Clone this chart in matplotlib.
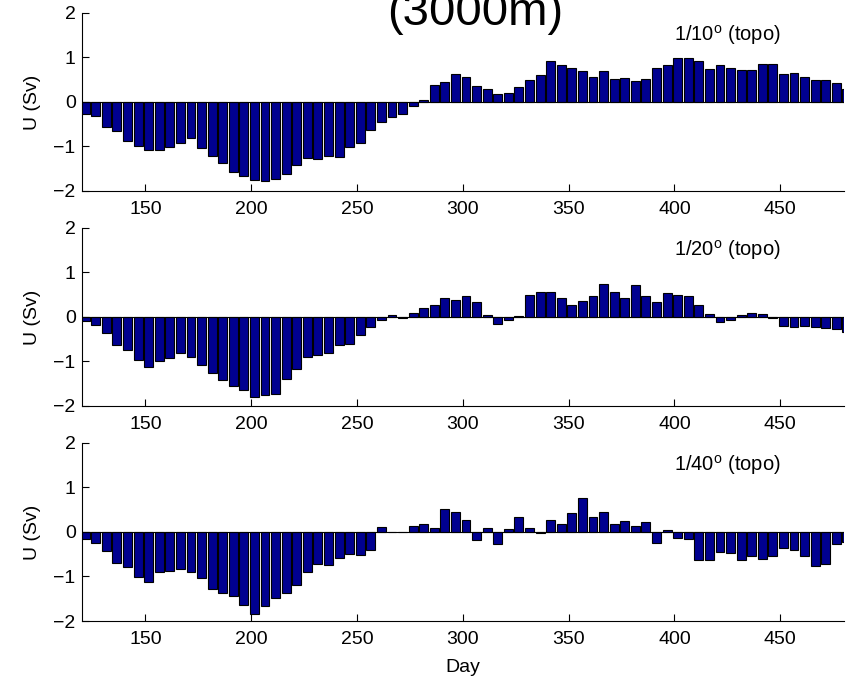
import numpy as np
import matplotlib
matplotlib.use("Agg")
import matplotlib.pyplot as plt

plt.rcParams['font.family'] = ['Liberation Sans', 'DejaVu Sans']
plt.rcParams['mathtext.fontset'] = 'custom'
plt.rcParams['mathtext.rm'] = 'Liberation Sans'

# bar centres, every 5 days
days = np.arange(121.5, 482, 5)

u_10 = [-0.28, -0.31, -0.56, -0.66, -0.87, -1.00, -1.07, -1.07, -1.02, -0.93,
        -0.81, -1.03, -1.22, -1.38, -1.57, -1.67, -1.76, -1.77, -1.74, -1.61,
        -1.42, -1.25, -1.29, -1.22, -1.24, -1.01, -0.93, -0.64, -0.44, -0.34,
        -0.28, -0.10, 0.04, 0.37, 0.45, 0.63, 0.56, 0.35, 0.28, 0.18,
        0.21, 0.33, 0.49, 0.61, 0.92, 0.83, 0.77, 0.70, 0.57, 0.70,
        0.51, 0.54, 0.47, 0.51, 0.76, 0.83, 0.98, 0.98, 0.91, 0.73,
        0.83, 0.76, 0.72, 0.72, 0.85, 0.85, 0.63, 0.66, 0.56, 0.49,
        0.49, 0.43, 0.28]

u_20 = [-0.08, -0.18, -0.35, -0.64, -0.74, -0.96, -1.13, -0.99, -0.93, -0.82,
        -0.91, -1.07, -1.25, -1.41, -1.56, -1.65, -1.80, -1.75, -1.72, -1.40,
        -1.17, -0.91, -0.85, -0.81, -0.64, -0.60, -0.41, -0.22, -0.07, 0.04,
        -0.02, 0.10, 0.20, 0.28, 0.43, 0.38, 0.47, 0.34, 0.04, -0.15,
        -0.07, 0.02, 0.50, 0.57, 0.57, 0.43, 0.28, 0.37, 0.46, 0.75,
        0.56, 0.43, 0.71, 0.46, 0.34, 0.54, 0.50, 0.48, 0.26, 0.07,
        -0.12, -0.06, 0.04, 0.08, 0.06, -0.03, -0.20, -0.22, -0.21, -0.22,
        -0.25, -0.26, -0.34]

u_40 = [-0.15, -0.24, -0.43, -0.69, -0.78, -1.01, -1.12, -0.91, -0.87, -0.83,
        -0.90, -1.04, -1.29, -1.36, -1.43, -1.64, -1.84, -1.66, -1.49, -1.36,
        -1.19, -0.91, -0.73, -0.74, -0.58, -0.49, -0.51, -0.41, 0.11, 0.01,
        -0.01, 0.14, 0.17, 0.09, 0.51, 0.45, 0.27, -0.19, 0.08, -0.26,
        0.07, 0.34, 0.08, -0.03, 0.26, 0.19, 0.43, 0.77, 0.34, 0.45,
        0.18, 0.24, 0.13, 0.22, -0.25, 0.04, -0.13, -0.16, -0.64, -0.64,
        -0.46, -0.47, -0.63, -0.53, -0.60, -0.53, -0.35, -0.40, -0.54, -0.77,
        -0.72, -0.28, -0.22]

series = [u_10, u_20, u_40]
labels = [r'1/10$^{\rm o}$ (topo)', r'1/20$^{\rm o}$ (topo)', r'1/40$^{\rm o}$ (topo)']

fig = plt.figure(figsize=(8.54, 6.77), dpi=100)
bottoms = [0.7179, 0.4003, 0.0827]

for vals, lab, b in zip(series, labels, bottoms):
  ax = fig.add_axes([0.096, b, 0.892, 0.263])
  ax.bar(days, vals, width=4.2, color='#000090', edgecolor='k', linewidth=0.8)
  ax.axhline(0, color='k', lw=0.8)
  ax.set_xlim(120, 480)
  ax.set_ylim(-2, 2)
  ax.set_xticks([150, 200, 250, 300, 350, 400, 450])
  ax.set_yticks([-2, -1, 0, 1, 2])
  ax.spines['top'].set_visible(False)
  ax.spines['right'].set_visible(False)
  ax.tick_params(direction='in', labelsize=14, length=5)
  ax.tick_params(axis='x', pad=7)
  ax.tick_params(axis='y', pad=4.5)
  ax.set_ylabel('U (Sv)', fontsize=14, labelpad=9)
  ax.text(400, 1.37, lab, fontsize=14.5, ha='left', va='baseline')

ax.set_xlabel('Day', fontsize=14, labelpad=8)

fig.text(0.556, 0.963, '(3000m)', fontsize=34, ha='center', va='baseline')

plt.savefig("out.png", dpi=100)
plt.close()
